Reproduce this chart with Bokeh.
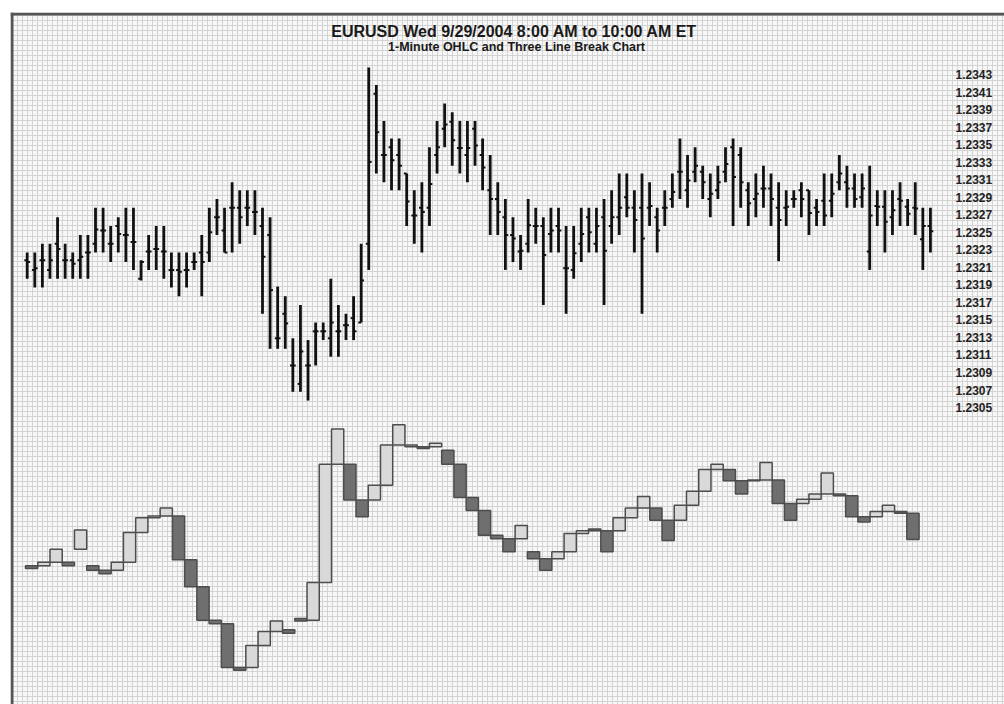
import numpy as np
from bokeh.plotting import figure
from bokeh.models import Range1d, SingleIntervalTicker, Label, ColumnDataSource, Span
from bokeh.core.properties import value
from bokeh.embed import file_html
from bokeh.resources import INLINE

# ---------------- data ----------------
title_text = "EURUSD  Wed 9/29/2004 8:00 AM to 10:00 AM ET"
subtitle_text = "1-Minute OHLC and Three Line Break Chart"

tick_labels = ["1.2343", "1.2341", "1.2339", "1.2337", "1.2335", "1.2333", "1.2331",
               "1.2329", "1.2327", "1.2325", "1.2323", "1.2321", "1.2319", "1.2317",
               "1.2315", "1.2313", "1.2311", "1.2309", "1.2307", "1.2305"]

opens = [1.23218, 1.23207, 1.23218, 1.23207, 1.23237, 1.23218, 1.23218, 1.23218, 1.23227, 1.23237,
         1.23252, 1.23237, 1.23257, 1.23247, 1.23239, 1.23197, 1.23228, 1.23231, 1.23228, 1.23207,
         1.23207, 1.23207, 1.23216, 1.23227, 1.23227, 1.23267, 1.23252, 1.23278, 1.23278, 1.23278,
         1.23273, 1.23257, 1.23247, 1.23129, 1.23157, 1.23098, 1.23077, 1.23098, 1.23137, 1.23137,
         1.23129, 1.23137, 1.23144, 1.23152, 1.23147, 1.23237, 1.23408, 1.23338, 1.23347, 1.23338,
         1.23317, 1.23269, 1.23278, 1.23278, 1.23338, 1.23368, 1.23376, 1.23346, 1.23338, 1.23368,
         1.23338, 1.23298, 1.23288, 1.23267, 1.23247, 1.23228, 1.23237, 1.23257, 1.23257, 1.23248,
         1.23257, 1.23209, 1.23207, 1.23237, 1.23267, 1.23237, 1.23267, 1.23257, 1.23267, 1.23290,
         1.23278, 1.23278, 1.23278, 1.23267, 1.23278, 1.23288, 1.23319, 1.23298, 1.23319, 1.23319,
         1.23288, 1.23298, 1.23319, 1.23347, 1.23338, 1.23298, 1.23288, 1.23300, 1.23300, 1.23278,
         1.23278, 1.23288, 1.23298, 1.23298, 1.23278, 1.23286, 1.23286, 1.23307, 1.23307, 1.23300,
         1.23290, 1.23228, 1.23280, 1.23279, 1.23267, 1.23288, 1.23279, 1.23278, 1.23242, 1.23257]

highs = [1.23227, 1.23227, 1.23237, 1.23237, 1.23267, 1.23237, 1.23227, 1.23247, 1.23247, 1.23278,
         1.23278, 1.23257, 1.23267, 1.23278, 1.23278, 1.23218, 1.23247, 1.23257, 1.23257, 1.23227,
         1.23227, 1.23227, 1.23227, 1.23247, 1.23278, 1.23288, 1.23278, 1.23307, 1.23298, 1.23298,
         1.23298, 1.23278, 1.23267, 1.23188, 1.23177, 1.23129, 1.23167, 1.23127, 1.23147, 1.23147,
         1.23197, 1.23167, 1.23157, 1.23177, 1.23237, 1.23438, 1.23418, 1.23377, 1.23357, 1.23357,
         1.23317, 1.23298, 1.23307, 1.23347, 1.23377, 1.23397, 1.23387, 1.23377, 1.23377, 1.23377,
         1.23357, 1.23338, 1.23307, 1.23288, 1.23267, 1.23247, 1.23288, 1.23278, 1.23267, 1.23278,
         1.23278, 1.23257, 1.23257, 1.23278, 1.23278, 1.23278, 1.23288, 1.23298, 1.23317, 1.23317,
         1.23298, 1.23317, 1.23307, 1.23278, 1.23298, 1.23317, 1.23357, 1.23338, 1.23347, 1.23326,
         1.23317, 1.23326, 1.23347, 1.23357, 1.23347, 1.23307, 1.23317, 1.23326, 1.23317, 1.23307,
         1.23298, 1.23298, 1.23307, 1.23298, 1.23288, 1.23317, 1.23317, 1.23338, 1.23326, 1.23317,
         1.23317, 1.23326, 1.23298, 1.23298, 1.23298, 1.23307, 1.23288, 1.23307, 1.23278, 1.23278]

lows = [1.23197, 1.23187, 1.23187, 1.23197, 1.23197, 1.23197, 1.23197, 1.23197, 1.23197, 1.23227,
        1.23227, 1.23216, 1.23227, 1.23216, 1.23207, 1.23195, 1.23207, 1.23207, 1.23197, 1.23187,
        1.23177, 1.23187, 1.23207, 1.23177, 1.23216, 1.23247, 1.23227, 1.23227, 1.23237, 1.23257,
        1.23247, 1.23157, 1.23117, 1.23117, 1.23117, 1.23068, 1.23068, 1.23058, 1.23098, 1.23127,
        1.23108, 1.23108, 1.23127, 1.23127, 1.23147, 1.23207, 1.23317, 1.23307, 1.23298, 1.23298,
        1.23257, 1.23237, 1.23227, 1.23257, 1.23317, 1.23347, 1.23326, 1.23317, 1.23307, 1.23326,
        1.23298, 1.23247, 1.23247, 1.23207, 1.23216, 1.23207, 1.23227, 1.23237, 1.23167, 1.23227,
        1.23227, 1.23157, 1.23197, 1.23216, 1.23227, 1.23227, 1.23167, 1.23237, 1.23247, 1.23267,
        1.23227, 1.23157, 1.23257, 1.23227, 1.23257, 1.23278, 1.23288, 1.23278, 1.23307, 1.23288,
        1.23267, 1.23288, 1.23307, 1.23257, 1.23278, 1.23257, 1.23267, 1.23278, 1.23257, 1.23217,
        1.23257, 1.23278, 1.23267, 1.23247, 1.23257, 1.23257, 1.23267, 1.23298, 1.23278, 1.23278,
        1.23278, 1.23207, 1.23257, 1.23227, 1.23247, 1.23257, 1.23257, 1.23247, 1.23207, 1.23227]

closes = [1.23216, 1.23209, 1.23218, 1.23218, 1.23231, 1.23218, 1.23214, 1.23222, 1.23227, 1.23253,
          1.23252, 1.23237, 1.23248, 1.23247, 1.23239, 1.23216, 1.23228, 1.23231, 1.23228, 1.23207,
          1.23205, 1.23207, 1.23216, 1.23216, 1.23250, 1.23267, 1.23227, 1.23278, 1.23267, 1.23278,
          1.23273, 1.23222, 1.23184, 1.23129, 1.23146, 1.23098, 1.23114, 1.23098, 1.23137, 1.23137,
          1.23147, 1.23137, 1.23144, 1.23137, 1.23195, 1.23330, 1.23364, 1.23338, 1.23332, 1.23326,
          1.23285, 1.23269, 1.23273, 1.23305, 1.23347, 1.23373, 1.23355, 1.23346, 1.23346, 1.23349,
          1.23324, 1.23288, 1.23273, 1.23247, 1.23243, 1.23229, 1.23258, 1.23257, 1.23224, 1.23252,
          1.23252, 1.23209, 1.23226, 1.23248, 1.23250, 1.23257, 1.23229, 1.23267, 1.23278, 1.23278,
          1.23264, 1.23243, 1.23280, 1.23252, 1.23278, 1.23296, 1.23319, 1.23309, 1.23326, 1.23307,
          1.23294, 1.23307, 1.23328, 1.23313, 1.23307, 1.23283, 1.23294, 1.23300, 1.23288, 1.23264,
          1.23279, 1.23288, 1.23288, 1.23272, 1.23273, 1.23269, 1.23294, 1.23317, 1.23300, 1.23288,
          1.23300, 1.23269, 1.23279, 1.23262, 1.23275, 1.23286, 1.23271, 1.23277, 1.23257, 1.23251]

# Three Line Break blocks (start and end price of each line)
tlb_open = [1.23206, 1.23206, 1.23210, 1.23210, 1.23225, 1.23206, 1.23201, 1.23201, 1.23210, 1.23244,
            1.23261, 1.23263, 1.23263, 1.23213, 1.23182, 1.23144, 1.23140, 1.23090, 1.23090, 1.23115,
            1.23131, 1.23133, 1.23146, 1.23144, 1.23187, 1.23322, 1.23322, 1.23281, 1.23281, 1.23298,
            1.23344, 1.23342, 1.23342, 1.23342, 1.23338, 1.23322, 1.23284, 1.23269, 1.23241, 1.23237,
            1.23237, 1.23222, 1.23214, 1.23214, 1.23222, 1.23243, 1.23248, 1.23246, 1.23246, 1.23261,
            1.23272, 1.23272, 1.23258, 1.23258, 1.23275, 1.23291, 1.23316, 1.23316, 1.23303, 1.23303,
            1.23304, 1.23304, 1.23277, 1.23277, 1.23282, 1.23288, 1.23288, 1.23286, 1.23262, 1.23262,
            1.23268, 1.23268, 1.23266]
tlb_close = [1.23203, 1.23210, 1.23225, 1.23206, 1.23247, 1.23201, 1.23197, 1.23210, 1.23244, 1.23261,
             1.23263, 1.23272, 1.23213, 1.23182, 1.23144, 1.23140, 1.23090, 1.23087, 1.23115, 1.23131,
             1.23143, 1.23129, 1.23143, 1.23187, 1.23322, 1.23362, 1.23281, 1.23262, 1.23298, 1.23344,
             1.23367, 1.23344, 1.23340, 1.23346, 1.23322, 1.23284, 1.23269, 1.23241, 1.23237, 1.23222,
             1.23252, 1.23214, 1.23201, 1.23222, 1.23243, 1.23246, 1.23246, 1.23222, 1.23261, 1.23272,
             1.23285, 1.23258, 1.23235, 1.23275, 1.23291, 1.23316, 1.23322, 1.23303, 1.23288, 1.23304,
             1.23324, 1.23277, 1.23258, 1.23282, 1.23288, 1.23312, 1.23286, 1.23262, 1.23256, 1.23268,
             1.23275, 1.23266, 1.23236]

# ---------------- figure ----------------
W, H = 1004, 704
ML, MT = 10, 12
p = figure(width=W, height=H, output_backend="svg", toolbar_location=None,
           x_axis_location=None, y_axis_location=None,
           x_range=Range1d(-2.200, 128.76), y_range=Range1d(1.2271123, 1.235007),
           min_border_left=ML, min_border_top=MT, min_border_right=0, min_border_bottom=0)
p.extra_x_ranges = {"tlb": Range1d(-1.7255, 79.48)}
p.extra_y_ranges = {"tlb": Range1d(1.230478, 1.238373)}

p.background_fill_color = "#f7f7f7"
p.border_fill_color = "white"
p.outline_line_color = None

p.xgrid.ticker = SingleIntervalTicker(interval=0.659, num_minor_ticks=0)
p.ygrid.ticker = SingleIntervalTicker(interval=0.0002 / 3.5, num_minor_ticks=0)
for g in (p.xgrid, p.ygrid):
    g.grid_line_color = "#d3d3d3"
    g.grid_line_width = 1

# frame border (left and top), kept 1.5 px inside the frame
frame_w = W - ML
frame_h = H - MT
dx = (p.x_range.end - p.x_range.start) / frame_w
dy = (p.y_range.end - p.y_range.start) / frame_h
p.add_layout(Span(location=p.x_range.start + 1.5 * dx, dimension="height",
                  line_color="#555555", line_width=3))
p.add_layout(Span(location=p.y_range.end - 1.5 * dy, dimension="width",
                  line_color="#555555", line_width=3))

# OHLC bars
idx = np.arange(len(opens))
src = ColumnDataSource(dict(t=idx, tl=idx - 0.38, tr=idx + 0.38,
                            o=opens, h=highs, l=lows, c=closes))
p.segment(x0="t", y0="l", x1="t", y1="h", source=src, line_color="#111111", line_width=2.8)
p.segment(x0="tl", y0="o", x1="t", y1="o", source=src, line_color="#111111", line_width=2)
p.segment(x0="t", y0="c", x1="tr", y1="c", source=src, line_color="#111111", line_width=2)

# Three line break
k = np.arange(len(tlb_open))
to = np.array(tlb_open)
tc = np.array(tlb_close)
tsrc = ColumnDataSource(dict(
    left=k - 0.5, right=k + 0.5,
    bottom=np.minimum(to, tc), top=np.maximum(to, tc),
    fill=["#d9d9d9" if c > o else "#6f6f6f" for o, c in zip(tlb_open, tlb_close)],
))
p.quad(left="left", right="right", bottom="bottom", top="top", source=tsrc,
       fill_color="fill", line_color="#4d4d4d", line_width=1.5,
       x_range_name="tlb", y_range_name="tlb")

# price labels on the right
tick_vals = [float(s) for s in tick_labels]
p.text(x=[122.3] * len(tick_vals), y=tick_vals, text=tick_labels,
       text_font=value("Liberation Sans"), text_font_style="bold", text_font_size="12px",
       text_align="left", text_baseline="middle", text_color="#222222")

# titles
p.add_layout(Label(x=64.47, y=1.234791, text=title_text, text_align="center",
                   text_baseline="middle", text_font="Liberation Sans",
                   text_font_style="bold", text_font_size="16px", text_color="#1a1a1a"))
p.add_layout(Label(x=64.47, y=1.234608, text=subtitle_text, text_align="center",
                   text_baseline="middle", text_font="Liberation Sans",
                   text_font_style="bold", text_font_size="12.5px", text_color="#1a1a1a"))

open("out.html", "w").write(file_html(p, INLINE))
